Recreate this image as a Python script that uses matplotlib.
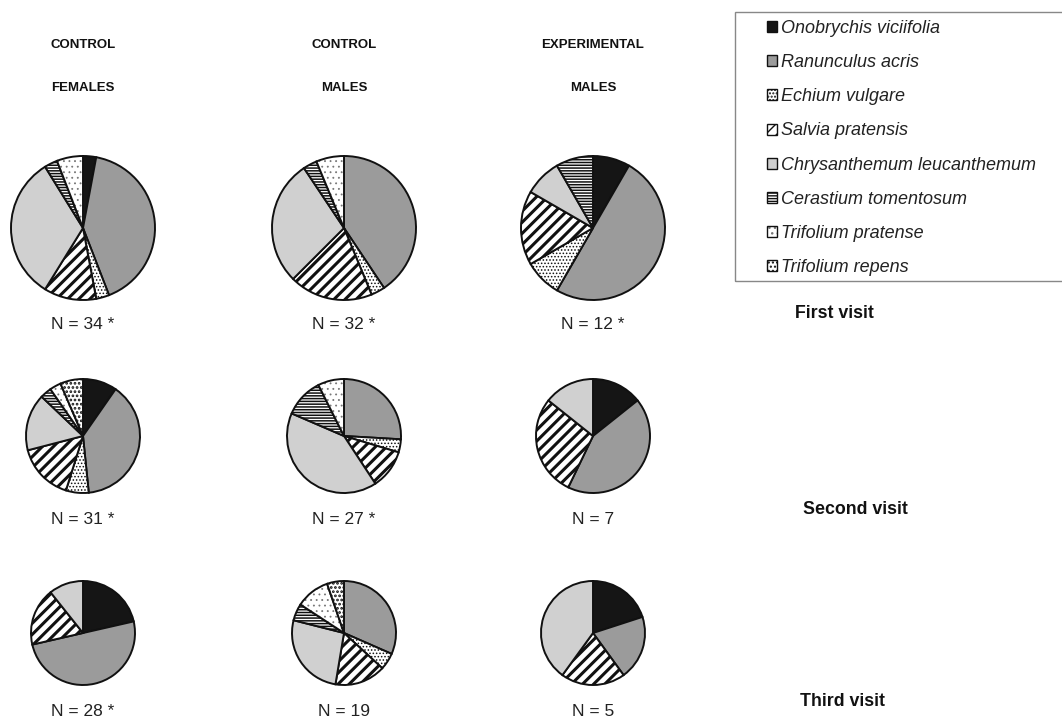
import matplotlib
matplotlib.use('Agg')
import matplotlib.pyplot as plt
from matplotlib.patches import Patch, Rectangle

plt.rcParams['font.family'] = ['Liberation Sans', 'DejaVu Sans']
plt.rcParams['hatch.linewidth'] = 1.0

# plant species (legend order = wedge order, clockwise from 12 o'clock)
species = ['Onobrychis viciifolia', 'Ranunculus acris', 'Echium vulgare',
           'Salvia pratensis', 'Chrysanthemum leucanthemum',
           'Cerastium tomentosum', 'Trifolium pratense', 'Trifolium repens']

# visit counts per species, rows = first / second / third visit
control_females = [[1, 14, 1, 4, 11, 1, 2, 0],
                   [3, 12, 2, 5, 5, 1, 1, 2],
                   [6, 14, 0, 5, 3, 0, 0, 0]]
control_males = [[0, 13, 1, 6, 9, 1, 2, 0],
                 [0, 7, 1, 3, 11, 3, 2, 0],
                 [0, 6, 1, 3, 5, 1, 2, 1]]
experimental_males = [[1, 6, 1, 2, 1, 1, 0, 0],
                      [1, 3, 0, 2, 1, 0, 0, 0],
                      [1, 1, 0, 1, 2, 0, 0, 0]]
significant = [[True, True, True],
               [True, True, False],
               [True, False, False]]

groups = [('CONTROL', 'FEMALES'), ('CONTROL', 'MALES'), ('EXPERIMENTAL', 'MALES')]
visits = ['First visit', 'Second visit', 'Third visit']

# look of each species
faces = ['#151515', '#9b9b9b', 'white', 'white', '#d0d0d0', 'white', 'white', 'white']
hatches = [None, None, '.....', '///', None, '------', '...', '....']
hatch_lw = [1.0, 1.0, 0.7, 2.2, 1.0, 1.1, 0.6, 1.3]
hatch_col = ['#111111', '#111111', '#111111', '#111111', '#111111', '#111111',
             '#777777', '#111111']

W, H = 1062, 723
fig = plt.figure(figsize=(W / 100, H / 100), dpi=100)

col_x = [83, 344, 593]
row_y = [228, 436, 633]
radius = [72, 57, 52]
label_y = [325, 520, 712]

data = [control_females, control_males, experimental_males]


def style_patch(p, i):
    if hatches[i]:
        p.set_hatch(hatches[i])
        if hasattr(p, 'set_hatch_linewidth'):
            p.set_hatch_linewidth(hatch_lw[i])
        p._hatch_color = matplotlib.colors.to_rgba(hatch_col[i])


for c in range(3):
    for r in range(3):
        vals = data[c][r]
        idx = [i for i, v in enumerate(vals) if v > 0]
        cx, cy, rad = col_x[c], row_y[r], radius[r]
        ax = fig.add_axes([(cx - rad - 2) / W, 1 - (cy + rad + 2) / H,
                           (2 * rad + 4) / W, (2 * rad + 4) / H])
        wedges, _ = ax.pie([vals[i] for i in idx], startangle=90, counterclock=False,
                           colors=[faces[i] for i in idx],
                           wedgeprops=dict(edgecolor='#111111', linewidth=1.4))
        for w, i in zip(wedges, idx):
            style_patch(w, i)
        lim = (2 * rad + 4) / (2 * rad)
        ax.set_xlim(-lim, lim)
        ax.set_ylim(-lim, lim)
        ax.axis('off')
        txt = 'N = %d' % sum(vals)
        if significant[r][c]:
            txt += ' *'
        fig.text(cx / W, 1 - label_y[r] / H, txt, ha='center', va='center',
                 fontsize=12.5, color='#222222')

    fig.text(col_x[c] / W, 1 - 45 / H, groups[c][0], ha='center', va='center',
             fontsize=9.5, fontweight='bold', color='#111111')
    fig.text(col_x[c] / W, 1 - 88 / H, groups[c][1], ha='center', va='center',
             fontsize=9.5, fontweight='bold', color='#111111')

visit_x = [834, 855, 842]
visit_y = [314, 510, 702]
for v in range(3):
    fig.text(visit_x[v] / W, 1 - visit_y[v] / H, visits[v], ha='center', va='center',
             fontsize=12.8, fontweight='bold', color='#111111')

# legend box runs off the right edge
fig.add_artist(Rectangle((735 / W, 1 - 281 / H), 400 / W, 269 / H,
                         transform=fig.transFigure, facecolor='none',
                         edgecolor='#888888', linewidth=1.0))

handles = []
for i in range(len(species)):
    p = Patch(facecolor=faces[i], edgecolor='#111111', linewidth=1)
    style_patch(p, i)
    handles.append(p)
leg = fig.legend(handles, species, loc='upper left',
                 bbox_to_anchor=(767 / W, 1 - 20 / H),
                 prop=dict(style='italic', size=13), handlelength=0.55,
                 handleheight=0.55, handletextpad=0.22, labelspacing=0.95,
                 borderpad=0, borderaxespad=0, frameon=False)
for t in leg.get_texts():
    t.set_color('#222222')

fig.savefig('out.png', dpi=100)
